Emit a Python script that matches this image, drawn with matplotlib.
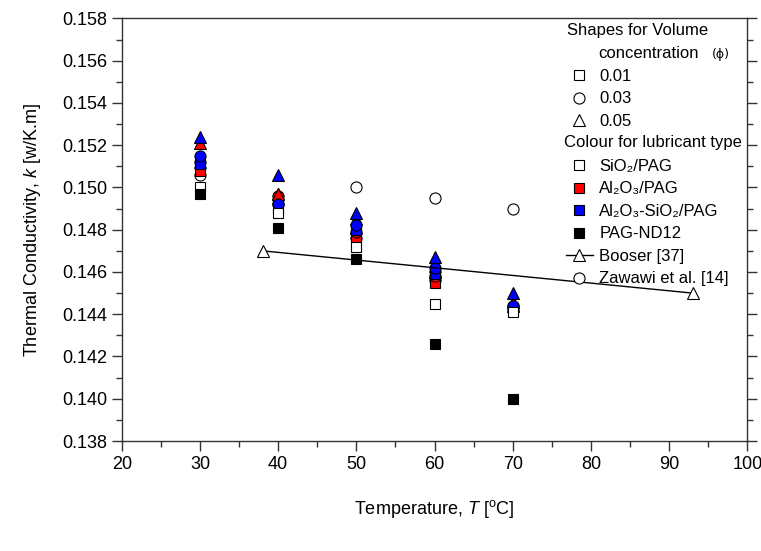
import matplotlib
matplotlib.use("Agg")
import matplotlib.pyplot as plt
from matplotlib.lines import Line2D
from matplotlib.ticker import MultipleLocator, FormatStrFormatter

plt.rcParams['font.family'] = ['Liberation Sans', 'DejaVu Sans']
plt.rcParams['mathtext.fontset'] = 'custom'
plt.rcParams['mathtext.rm'] = 'Liberation Sans'
plt.rcParams['mathtext.it'] = 'Liberation Sans:italic'

temps = [30, 40, 50, 60, 70]

# SiO2/PAG (white)
sio2_01 = [0.1500, 0.1488, 0.1472, 0.1445, 0.1441]
sio2_03 = [0.1506, 0.1492, 0.1476, 0.1456, 0.1442]
sio2_05 = [0.1512, 0.1497, 0.1481, 0.1460, 0.1444]
# Al2O3/PAG (red)
al_01 = [0.1508, 0.1494, 0.1476, 0.1455, 0.1443]
al_03 = [0.1512, 0.1496, 0.1479, 0.1458, 0.1444]
al_05 = [0.1521, 0.1497, 0.1485, 0.1463, 0.1446]
# Al2O3-SiO2/PAG (blue)
hy_01 = [0.1511, 0.1490, 0.1480, 0.1459, 0.1443]
hy_03 = [0.1515, 0.1492, 0.1482, 0.1462, 0.1444]
hy_05 = [0.1524, 0.1506, 0.1488, 0.1467, 0.1450]
# PAG-ND12 (black)
nd12 = [0.1497, 0.1481, 0.1466, 0.1426, 0.1400]
# Booser [37]
booser_T = [38, 93]
booser_k = [0.1470, 0.1450]
# Zawawi et al. [14]
zawawi_T = [50, 60, 70]
zawawi_k = [0.1500, 0.1495, 0.1490]

fig = plt.figure(figsize=(7.61, 5.51), dpi=100)
ax = fig.add_axes([0.160, 0.1996, 0.822, 0.767])

ms = 7
def sc(y, marker, fc, size=ms):
    ax.plot(temps, y, linestyle='none', marker=marker, markersize=size,
            markerfacecolor=fc, markeredgecolor='black', markeredgewidth=0.8)

sc(sio2_05, '^', 'white', 8)
sc(sio2_03, 'o', 'white', 8)
sc(al_01, 's', 'red')
sc(al_03, 'o', 'red', 8)
sc(al_05, '^', 'red', 8)
sc(hy_01, 's', 'blue')
sc(hy_03, 'o', 'blue', 8)
sc(hy_05, '^', 'blue', 8)
sc(sio2_01, 's', 'white')
sc(nd12, 's', 'black')

ax.plot(booser_T, booser_k, color='black', linewidth=1.0, marker='^',
        markersize=9, markerfacecolor='white', markeredgecolor='black', markeredgewidth=0.8)
ax.plot(zawawi_T, zawawi_k, linestyle='none', marker='o', markersize=8,
        markerfacecolor='white', markeredgecolor='black', markeredgewidth=0.8)

ax.set_xlim(20, 100)
ax.set_ylim(0.138, 0.158)
ax.xaxis.set_major_locator(MultipleLocator(10))
ax.xaxis.set_minor_locator(MultipleLocator(5))
ax.yaxis.set_major_locator(MultipleLocator(0.002))
ax.yaxis.set_minor_locator(MultipleLocator(0.001))
ax.yaxis.set_major_formatter(FormatStrFormatter('%.3f'))
ax.tick_params(which='both', direction='out', labelsize=13, color='#333333',
               right=True, top=False)
ax.tick_params(which='major', length=7, width=1)
ax.tick_params(which='minor', length=4, width=1)
for s in ax.spines.values():
    s.set_color('#333333')
    s.set_linewidth(1.0)

ax.set_xlabel('Temperature, $T$ [$^{\\mathrm{o}}$C]', fontsize=13, labelpad=18)
ax.set_ylabel('Thermal Conductivity, $k$ [w/K.m]', fontsize=13, labelpad=14)

blank = Line2D([], [], linestyle='none')
def mk(marker, fc, ls='none', size=7):
    return Line2D([], [], linestyle=ls, color='black', linewidth=1.0, marker=marker,
                  markersize=size, markerfacecolor=fc, markeredgecolor='black',
                  markeredgewidth=0.8)

handles = [blank, blank, mk('s', 'white'), mk('o', 'white', size=8), mk('^', 'white', size=8),
           blank, mk('s', 'white'), mk('s', 'red'), mk('s', 'blue'), mk('s', 'black'),
           mk('^', 'white', ls='-', size=9), mk('o', 'white', size=8)]
labels = ['0', '0', '0.01', '0.03', '0.05', '0',
          'SiO₂/PAG', 'Al₂O₃/PAG', 'Al₂O₃-SiO₂/PAG', 'PAG-ND12',
          'Booser [37]', 'Zawawi et al. [14]']
leg = ax.legend(handles, labels, loc='upper left', bbox_to_anchor=(0.710, 0.987),
                frameon=False, fontsize=12, handlelength=1.6, handletextpad=0.4,
                labelspacing=0.45, borderaxespad=0, borderpad=0)
for i in (0, 1, 5):
    leg.get_texts()[i].set_visible(False)

ax.text(0.712, 0.972, 'Shapes for Volume', transform=ax.transAxes, fontsize=12,
        ha='left', va='center')
ax.text(0.762, 0.917, 'concentration', transform=ax.transAxes, fontsize=12,
        ha='left', va='center')
ax.text(0.944, 0.914, '(ϕ)', transform=ax.transAxes, fontsize=9,
        ha='left', va='center', family=['DejaVu Sans'])
ax.text(0.707, 0.707, 'Colour for lubricant type', transform=ax.transAxes, fontsize=12,
        ha='left', va='center')

fig.savefig('out.png', dpi=100)
